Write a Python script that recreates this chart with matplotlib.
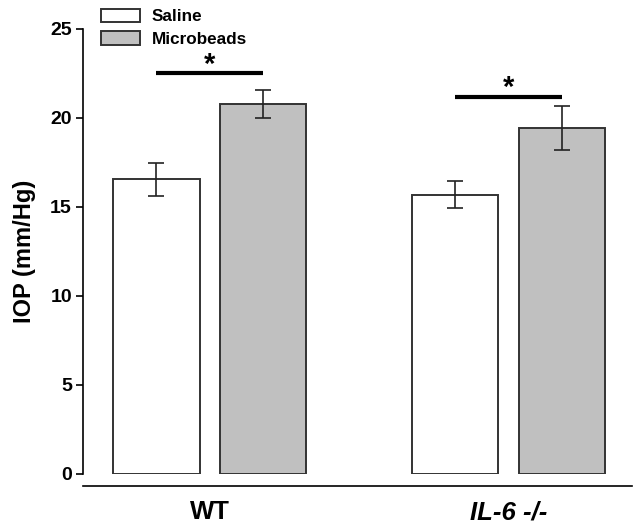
import matplotlib.pyplot as plt
import matplotlib.transforms as mtransforms
import numpy as np
from matplotlib.patches import Patch

plt.rcParams['font.family'] = ['Liberation Sans', 'DejaVu Sans']
plt.rcParams['font.weight'] = 'bold'

# Data
groups = ['WT', 'IL-6 -/-']
saline = [16.55, 15.7]
saline_err = [0.93, 0.78]
microbeads = [20.8, 19.45]
microbeads_err = [0.8, 1.25]
sig_height = [22.5, 21.2]
yticks = [0, 5, 10, 15, 20, 25]

# Plot
fig = plt.figure(figsize=(6.39, 5.27), dpi=100)
ax = fig.add_axes([0.13, 0.1006, 0.859, 0.8444])

# spines first (set_position resets tick labels)
for s in ['top', 'right']:
    ax.spines[s].set_visible(False)
ax.spines['left'].set_bounds(0, 25)
ax.spines['left'].set_linewidth(1.2)
ax.spines['bottom'].set_position(('outward', 9))
ax.spines['bottom'].set_linewidth(1.2)

x = np.arange(len(groups))
w = 0.289
off = 0.178
edge = '#333333'
ax.bar(x - off, saline, w, color='white', edgecolor=edge, linewidth=1.4, zorder=2)
ax.bar(x + off, microbeads, w, color='#c0c0c0', edgecolor=edge, linewidth=1.4, zorder=2)
ax.errorbar(x - off, saline, yerr=saline_err, fmt='none', ecolor='#222222',
            elinewidth=1.2, capsize=5.5, capthick=1.2, zorder=3)
ax.errorbar(x + off, microbeads, yerr=microbeads_err, fmt='none', ecolor='#222222',
            elinewidth=1.2, capsize=5.5, capthick=1.2, zorder=3)

for i, h in enumerate(sig_height):
    ax.plot([x[i] - off, x[i] + off], [h, h], color='black', lw=3, solid_capstyle='butt')
    ax.text(x[i], h - 0.3, '*', ha='center', va='bottom', fontsize=21, fontweight='bold')

ax.set_xlim(-0.423, 1.413)
ax.set_ylim(0, 25)
ax.set_yticks(yticks)
ax.set_yticklabels([str(t) for t in yticks], fontsize=14, fontweight='bold')
ax.set_xticks(x)
ax.set_xticklabels(groups, fontsize=18.5, fontweight='bold')
lab = ax.get_xticklabels()[1]
lab.set_style('italic')
lab.set_transform(lab.get_transform() + mtransforms.ScaledTranslation(0.06, 0, fig.dpi_scale_trans))
ax.tick_params(axis='x', length=0, pad=10)
ax.tick_params(axis='y', direction='out', length=5, width=1.2, pad=3)
ax.set_ylabel('IOP (mm/Hg)', fontsize=17, fontweight='bold', labelpad=10)

handles = [Patch(facecolor='white', edgecolor=edge, linewidth=1.4, label='Saline'),
           Patch(facecolor='#c0c0c0', edgecolor=edge, linewidth=1.4, label='Microbeads')]
fig.legend(handles=handles, loc='upper left', bbox_to_anchor=(0.145, 1.0),
           frameon=False, fontsize=12.3, handlelength=2.3, handleheight=0.85,
           handletextpad=0.65, labelspacing=0.4, borderaxespad=0.1)

fig.savefig('out.png', dpi=100)
